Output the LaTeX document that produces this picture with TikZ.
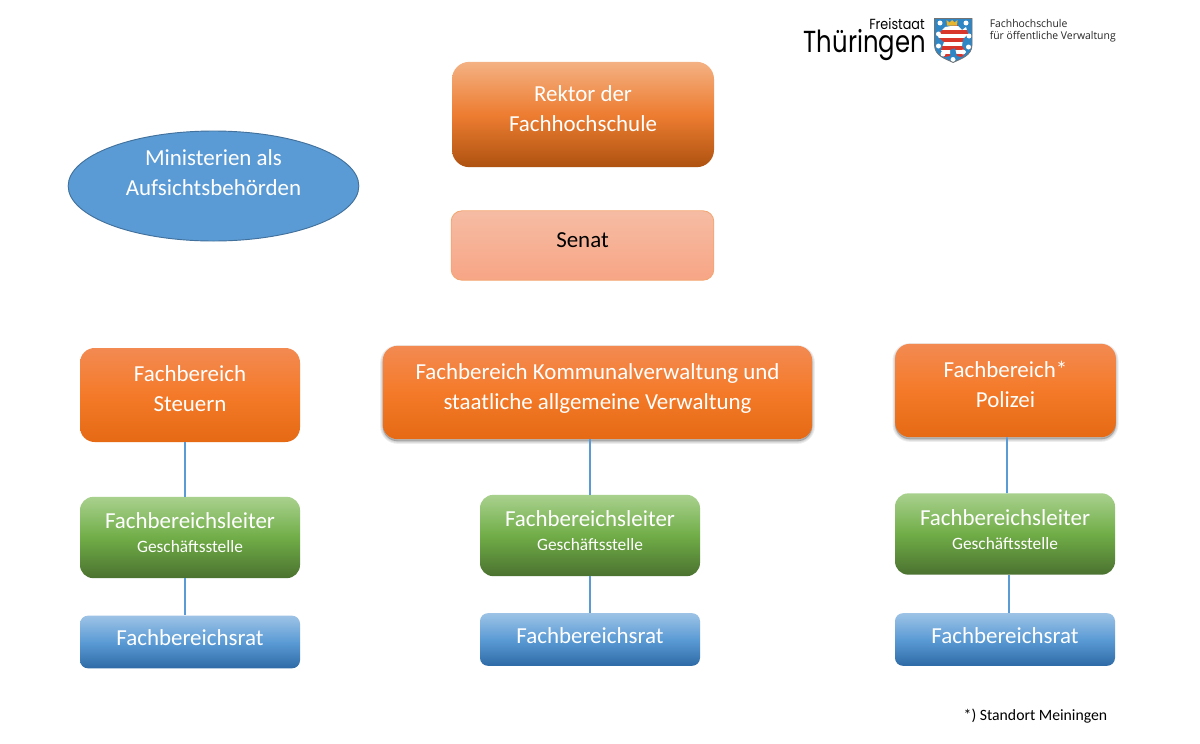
\documentclass[tikz,border=0pt]{standalone}
\usepackage{fontspec}
\setmainfont{Carlito}
\newfontfamily\logofont[FakeStretch=.87]{Poppins}
\newfontfamily\logobig[FakeStretch=.80]{Poppins}
\newfontfamily\logotext[FakeStretch=.975]{Open Sans}
\usetikzlibrary{shapes.geometric,calc}
\definecolor{orA}{HTML}{F4B183}
\definecolor{orB}{HTML}{ED7D31}
\definecolor{orC}{HTML}{AE5210}
\definecolor{brA}{HTML}{F38A52}
\definecolor{brB}{HTML}{F47A29}
\definecolor{brC}{HTML}{E66A14}
\definecolor{seA}{HTML}{F6BCA4}
\definecolor{seB}{HTML}{F7A585}
\definecolor{seD}{HTML}{F4A56F}
\definecolor{grA}{HTML}{A9D18E}
\definecolor{grB}{HTML}{70AD47}
\definecolor{grC}{HTML}{4B7230}
\definecolor{blA}{HTML}{9DC3E6}
\definecolor{blB}{HTML}{5B9BD5}
\definecolor{blC}{HTML}{2E6BA6}
\definecolor{elF}{HTML}{5B9BD5}
\definecolor{elD}{HTML}{41719C}
\definecolor{cnn}{HTML}{5B9BD5}
\definecolor{crestblue}{HTML}{2F86C5}
\definecolor{crestred}{HTML}{D9362B}
\definecolor{crestgold}{HTML}{E9B62F}
\newcommand{\boxtext}[2]{\raisebox{#1}[0pt][0pt]{\begin{tabular}{@{}c@{}}#2\end{tabular}}}
\newcommand{\smalltext}{\fontsize{13}{17}\selectfont}
\newcommand{\leitertext}{\boxtext{-2.2pt}{Fachbereichsleiter\\[-4.4pt]{\smalltext Geschäftsstelle}}}
\tikzset{
  base/.style={rectangle,inner sep=0pt,text=white,align=center,font=\fontsize{17.2}{22.5}\selectfont},
  rektorbox/.style={base,rounded corners=13pt,minimum width=196.5pt,minimum height=79pt,top color=orA,bottom color=orC,middle color=orB},
  senatbox/.style={base,rounded corners=8pt,minimum width=197pt,minimum height=52pt,top color=seA,bottom color=seB,draw=seD,line width=.6pt,text=black},
  headbox/.style={base,rounded corners=11pt,top color=brA,bottom color=brC,middle color=brB},
  softlayer/.style={preaction={draw=black,fill=black,draw opacity=.07,fill opacity=.07,line width=#1,transform canvas={yshift=-1.5pt}}},
  headshadow/.style={softlayer=4pt,softlayer=2.5pt,softlayer=1pt},
  leiterbox/.style={base,rounded corners=10pt,minimum width=165pt,minimum height=61pt,top color=grA,bottom color=grC,middle color=grB},
  ratbox/.style={base,rounded corners=6pt,minimum width=165pt,minimum height=39.5pt,top color=blA,bottom color=blC,middle color=blB},
  aufsicht/.style={base,ellipse,minimum width=218pt,minimum height=82.5pt,fill=elF,draw=elD,line width=.7pt},
  conn/.style={draw=cnn,line width=1.4pt},
  logoA/.style={inner sep=0pt,text=black,anchor=east},
  logoB/.style={inner sep=0pt,text=black!85,anchor=west,font=\logotext\fontsize{8}{11}\selectfont},
  footnote/.style={inner sep=0pt,text=black,font=\fontsize{11.8}{14}\selectfont}
}
\begin{document}
\begin{tikzpicture}[x=.75pt,y=-.75pt]
\useasboundingbox[fill=white] (0,0) rectangle (1200,743);
% top
\node[rektorbox] (rektor) at (583,114.5) {\boxtext{-1.5pt}{Rektor der\\Fachhochschule}};
\node[senatbox] (senat) at (582.5,245.5) {\boxtext{-1.5pt}{Senat}};
\node[aufsicht] (min) at (213.5,186) {\boxtext{4.25pt}{Ministerien als\\Aufsichtsbehörden}};
% left column
\node[headbox,minimum width=165pt,minimum height=70.5pt] (fbs) at (190,395) {\boxtext{-1.25pt}{Fachbereich\\Steuern}};
\node[leiterbox] (ls) at (190,537.5) {\leitertext};
\node[ratbox] (rs) at (190,642) {\boxtext{-2.5pt}{Fachbereichsrat}};
% middle column
\node[headbox,headshadow,minimum width=322pt,minimum height=70pt] (fbk) at (597.5,392.5) {\boxtext{-1.25pt}{Fachbereich Kommunalverwaltung und\\staatliche allgemeine Verwaltung}};
\node[leiterbox] (lk) at (590,535.5) {\leitertext};
\node[ratbox] (rk) at (590,639.5) {\boxtext{-2.5pt}{Fachbereichsrat}};
% right column
\node[headbox,headshadow,minimum width=165.5pt,minimum height=70pt] (fbp) at (1005.5,390.5) {\boxtext{-1pt}{Fachbereich*\\Polizei}};
\node[leiterbox] (lp) at (1005,534) {\leitertext};
\node[ratbox] (rp) at (1005,639.5) {\boxtext{-2.5pt}{Fachbereichsrat}};
% connectors
\draw[conn] ([xshift=-3.75pt]fbs.south) -- ([xshift=-3.75pt]ls.north);
\draw[conn] ([xshift=-3.75pt]ls.south) -- ([xshift=-3.75pt]rs.north);
\draw[conn] (fbk.south -| lk.north) -- (lk.north);
\draw[conn] (lk.south) -- (rk.north);
\draw[conn] ([xshift=1.1pt]fbp.south) -- ([xshift=1.5pt]lp.north);
\draw[conn] ([xshift=3pt]lp.south) -- ([xshift=3pt]rp.north);
% footnote
\node[footnote] (note) at (1035.5,716) {*) Standort Meiningen};
% logo
\node[logoA,font=\logofont\fontsize{11}{13}\selectfont] (frei) at (925,24) {Freistaat};
\node[logoA,font=\logobig\fontsize{22.8}{26}\selectfont] (thue) at (926,45) {Thüringen};
\node[logoB] (fh1) at (989.5,23) {Fachhochschule};
\node[logoB] (fh2) at (989.5,36.5) {für öffentliche Verwaltung};
% crest
\begin{scope}
\path[clip] (934.5,18.5) -- (972,18.5) -- (972,45) .. controls (972,56) and (960,59) .. (953.2,62.5) .. controls (946,59) and (934.5,56) .. (934.5,45) -- cycle;
\fill[crestblue] (930,15) rectangle (975,65);
% lion: striped body
\begin{scope}
\path[clip] (945,27) -- (957,25) -- (962,30) -- (966,27) -- (968,34) -- (963,39) -- (962,46) -- (966,52) -- (962,57) -- (957,56) -- (955,48) -- (950,50) -- (950,56) -- (944,57) -- (941,50) -- (944,42) -- (938,37) -- (940,32) -- cycle;
\foreach \yy/\cc in {24/crestred,28/white,32/crestred,36/white,40/crestred,44/white,48/crestred,52/white,56/crestred}
  \fill[\cc] (935,\yy-2) rectangle (970,\yy+2);
\end{scope}
\fill[crestgold] (947,25.5) -- (946.5,20) -- (949.5,22.5) -- (952,20) -- (954.5,22.5) -- (957.5,20) -- (957,25.5) -- cycle;
\foreach \sx/\sy in {940/23,966/23,938.5/34,969/36,938.5/46,968.5/47,943/54,963/52,953/59.5}
  \fill[white] (\sx,\sy) circle (2.5);
\end{scope}
\draw[black!55,line width=.6pt] (934.5,18.5) -- (972,18.5) -- (972,45) .. controls (972,56) and (960,59) .. (953.2,62.5) .. controls (946,59) and (934.5,56) .. (934.5,45) -- cycle;
\end{tikzpicture}
\end{document}
